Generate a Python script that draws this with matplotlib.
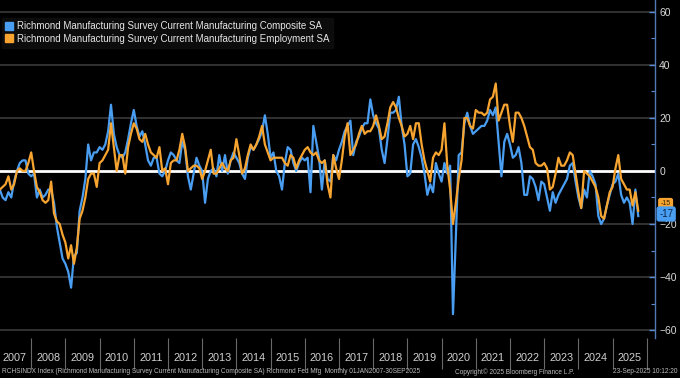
import numpy as np
import matplotlib.pyplot as plt
from matplotlib.lines import Line2D

# =========================
# Data (monthly, Jan 2007 - Sep 2025)
# =========================
composite = [
    -7, -10, -11, -8, -10, -4, 0, 3, 4, 4, -1, -2,          # 2007
    -1, -10, -7, -10, -9, -7, -7, -12, -21, -27, -33, -35,  # 2008
    -38, -44, -32, -31, -15, -10, -3, 10, 4, 7, 7, 9,       # 2009
    8, 10, 15, 25, 14, 9, 6, 5, 7, 12, 18, 23,              # 2010
    17, 13, 15, 10, 4, 2, 5, 5, -1, -2, 0, 4,               # 2011
    7, 6, 4, 3, 11, 8, -2, -7, -1, 5, 2, 0,                 # 2012
    -12, -3, 0, 1, -2, 6, 0, 6, -1, 4, 7, 5,                # 2013
    3, -1, -3, 5, 9, 8, 10, 12, 15, 21, 14, 5,              # 2014
    7, 0, -2, -7, 3, 9, 8, 3, 0, 3, 5, 4,                   # 2015
    5, -8, 17, 11, 5, -7, 4, -3, -4, 6, 4, 8,               # 2016
    11, 15, 17, 19, 6, 11, 13, 16, 18, 18, 27, 21,          # 2017
    18, 16, 8, 3, 12, 22, 22, 23, 28, 17, 10, -2,           # 2018
    -1, 10, 12, 9, 5, -1, -9, -5, -8, 3, -1, -4,            # 2019
    3, -1, 2, -54, -25, 6, 7, 18, 22, 17, 14, 15,           # 2020
    16, 17, 17, 19, 23, 21, 24, 11, -2, 11, 14, 10,         # 2021
    5, 6, 9, 3, -9, -9, -2, -3, -6, -11, -4, -5,            # 2022
    -10, -15, -8, -12, -9, -7, -5, -3, 2, 3, -4, -10,       # 2023
    -14, -7, -10, 0, -2, -5, -17, -20, -18, -13, -9, -5,    # 2024
    -4, -1, -9, -12, -10, -12, -20, -7, -17,                # 2025
]

employment = [
    -7, -6, -5, -2, -7, -5, 0, 1, 0, 0, 3, 7,               # 2007
    0, -6, -8, -11, -12, -11, -4, -16, -19, -20, -24, -27,  # 2008
    -33, -28, -35, -29, -18, -15, -10, -3, -1, -1, -6, 3,   # 2009
    4, 6, 8, 18, 9, 0, 6, 6, -1, 9, 14, 18,                 # 2010
    16, 12, 11, 14, 10, 7, 6, 5, 9, 0, 1, -5,               # 2011
    3, 4, 4, 8, 14, 9, 0, 1, 2, 2, 1, -3,                   # 2012
    0, 4, 8, -1, -1, 1, 3, 1, 0, 4, 5, 12,                  # 2013
    6, -1, 1, 6, 10, 8, 10, 13, 17, 10, 7, 4,               # 2014
    5, 5, 5, 5, 3, 2, 6, 5, 1, 4, 6, 8,                     # 2015
    9, 7, 6, 7, 4, 3, 4, -5, -10, 6, 1, -3,                 # 2016
    4, 13, 18, 6, 8, 10, 14, 17, 14, 15, 15, 17,            # 2017
    21, 17, 12, 13, 18, 24, 26, 24, 20, 17, 13, 14,         # 2018
    17, 12, 18, 18, 10, 4, 0, -4, 5, 7, 6, 8,               # 2019
    18, 2, -7, -20, -12, -3, 4, 20, 20, 17, 16, 23,         # 2020
    22, 22, 21, 22, 27, 28, 33, 19, 22, 25, 25, 17,         # 2021
    11, 22, 22, 20, 17, 13, 9, 8, 3, 2, 2, 3,               # 2022
    1, -7, -6, -1, 5, 2, 2, 4, 7, 6, -1, -8,                # 2023
    -14, 0, -1, -2, -4, -6, -10, -17, -18, -13, -8, -6,     # 2024
    1, 6, -3, -5, -7, -7, -13, -8, -15,                     # 2025
]

years = list(range(2007, 2026))
y_ticks = [-60, -40, -20, 0, 20, 40, 60]

label_comp = "Richmond Manufacturing Survey Current Manufacturing Composite SA"
label_emp = "Richmond Manufacturing Survey Current Manufacturing Employment SA"

footer_left = ("RCHSINDX Index (Richmond Manufacturing Survey Current Manufacturing "
               "Composite SA) Richmond Fed Mfg  Monthly 01JAN2007-30SEP2025")
footer_mid = "Copyright\u00a9 2025 Bloomberg Finance L.P."
footer_right = "23-Sep-2025 10:12:20"

BLUE = "#4a9ef2"
ORANGE = "#f7a530"
plt.rcParams["font.family"] = ["Liberation Sans", "DejaVu Sans"]

# x positions: month-end as fractional year
x = years[0] + (np.arange(len(composite)) + 1) / 12.0

# =========================
# Figure
# =========================
fig = plt.figure(figsize=(6.8, 3.78), dpi=100, facecolor="black")
ax = fig.add_axes([0, 40 / 378, 655 / 680, 338 / 378], facecolor="black")

ax.set_xlim(2007.088, 2026.24)
ax.set_ylim(-63.0, 64.5)

for v in y_ticks:
    if v != 0:
        ax.axhline(v, color="#3a3a3a", lw=1.2, zorder=1)
ax.axhline(0, color="white", lw=2, zorder=2)

ax.plot(x, composite, color=BLUE, lw=1.6, zorder=3)
ax.plot(x, employment, color=ORANGE, lw=1.6, zorder=4)

# spines
for side in ["top", "left", "bottom"]:
    ax.spines[side].set_visible(False)
ax.spines["right"].set_color("#5079b5")
ax.spines["right"].set_linewidth(1.0)

# y axis on the right
ax.yaxis.tick_right()
ax.set_yticks(y_ticks)
ax.set_yticks([-50, -30, -10, 10, 30, 50], minor=True)
ax.tick_params(axis="y", which="major", direction="in", length=4, width=1,
               color="#5b8bd0", labelcolor="#d8d8d8", labelsize=7.5, pad=3)
ax.tick_params(axis="y", which="minor", direction="in", length=3, width=0.8,
               color="#5b8bd0")

# x axis: separators at year boundaries, labels mid-year
ax.set_xticks(years[1:] + [2026])
ax.set_xticklabels([])
ax.set_xticks([yr + 0.5 for yr in years], minor=True)
ax.set_xticklabels([str(yr) for yr in years], minor=True)
ax.tick_params(axis="x", which="major", direction="out", length=22, width=0.8,
               color="#6a6a6a")
ax.tick_params(axis="x", which="minor", length=0, labelcolor="#d0d0d0",
               labelsize=7.8, pad=11)

# legend
handles = [
    Line2D([], [], ls="none", marker="s", ms=6, color=BLUE),
    Line2D([], [], ls="none", marker="s", ms=6, color=ORANGE),
]
leg = ax.legend(handles, [label_comp, label_emp], loc="upper left",
                bbox_to_anchor=(0.003, 0.948), fontsize=7, frameon=True,
                facecolor="#101010", edgecolor="#101010", fancybox=False,
                handlelength=0.7, handletextpad=0.4, labelspacing=0.25,
                borderpad=0.4, borderaxespad=0)
for t in leg.get_texts():
    t.set_color("#e6e6e6")

# last-value tags on the right axis (orange one mostly hidden behind blue)
ax.annotate(f"{employment[-1]}", xy=(1.0, employment[-1]),
            xycoords=("axes fraction", "data"), xytext=(4, 5),
            textcoords="offset points", va="center", ha="left", fontsize=5,
            color="#3a2400", annotation_clip=False, zorder=5,
            bbox=dict(boxstyle="round,pad=0.25", fc=ORANGE, ec=ORANGE))
ax.annotate(f"{composite[-1]}", xy=(1.0, composite[-1]),
            xycoords=("axes fraction", "data"), xytext=(3, 1.5),
            textcoords="offset points", va="center", ha="left", fontsize=7,
            color="#0b2448", annotation_clip=False, zorder=6,
            bbox=dict(boxstyle="round,pad=0.2", fc=BLUE, ec=BLUE))

# footer
fig.text(0.003, 0.016, footer_left, fontsize=4.7, color="#bdbdbd", va="center")
fig.text(455 / 680, 0.016, footer_mid, fontsize=4.7, color="#bdbdbd", va="center")
fig.text(0.997, 0.016, footer_right, fontsize=4.7, color="#bdbdbd", va="center",
         ha="right")

fig.savefig("out.png", dpi=100, facecolor="black")
